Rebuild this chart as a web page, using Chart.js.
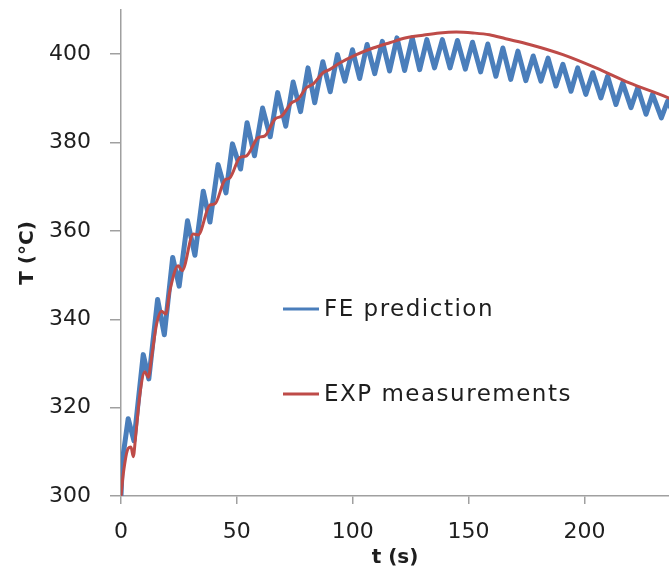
<!DOCTYPE html>
<html>
<head>
<meta charset="utf-8">
<title>T (°C) vs t (s)</title>
<script src="https://cdn.jsdelivr.net/npm/chart.js@4.4.1/dist/chart.umd.min.js"></script>
<style>
  html, body { margin: 0; padding: 0; background: #fff; }
  #wrap { width: 669px; height: 570px; }
</style>
</head>
<body>
<div id="wrap"><canvas id="tempChart" width="669" height="570"></canvas></div>
<script>
// FE prediction: peaks and troughs of the oscillating curve
var feTime = [0, 0.6, 3.1, 5.6, 9.6, 12.0, 15.8, 18.7, 22.3, 25.1, 28.7, 31.9, 35.5, 38.4, 41.9, 45.3,
    48.1, 51.6, 54.4, 57.6, 61.1, 64.4, 67.6, 71.1, 74.3, 77.5, 80.7, 83.6, 87.1, 90.3, 93.4, 96.6,
    99.9, 103.0, 106.2, 109.5, 112.8, 115.9, 119.1, 122.4, 125.7, 128.9, 132.0, 135.3, 138.7, 142.0,
    145.2, 148.6, 151.7, 155.2, 158.3, 161.8, 164.8, 168.2, 171.3, 174.7, 177.9, 181.2, 184.3, 187.7,
    190.7, 194.2, 197.1, 200.6, 203.6, 207.1, 210.0, 213.6, 216.5, 220.1, 223.0, 226.6, 229.4, 233.2,
    235.9, 238.5];
var feTemp = [300, 308, 317.5, 312.5, 332, 326.5, 344.5, 336.5, 354, 347.5, 362.3, 354.5, 369, 362, 375, 368.6,
    379.7, 374, 384.5, 377, 387.8, 381.3, 391.3, 383.7, 393.7, 387, 396.9, 389, 398.3, 391.5, 399.9, 393.9,
    401, 394.5, 402.2, 395.6, 402.9, 396.2, 403.7, 396.3, 403.7, 396.5, 403.3, 396.9, 403.3, 396.9,
    403.1, 396.6, 402.7, 396, 402.3, 395, 401.4, 394.3, 400.7, 394, 399.6, 393.9, 399.1, 392.8,
    397.7, 391.6, 396.9, 390.9, 395.8, 390.1, 395, 388.6, 393.5, 387.9, 392.4, 386.4, 390.9, 385.6,
    389.4, 386.5];

// EXP measurements
var expTime = [0, 1.0, 3.1, 4.3, 5.3, 6.3, 8.2, 10.3, 11.8, 13.2, 15.4, 17.5, 19.3, 21.1, 24.7, 26.4,
    31.2, 33.3, 38.4, 40.5, 44.8, 47.0, 51.3, 54.2, 59.2, 62.1, 66.4, 69.3, 73.6, 76.4, 80.0, 83.0,
    87.2, 90.0, 94.4, 101.6, 108.8, 116.0, 123.1, 130.3, 137.5, 144.7, 151.9, 159.0, 166.0, 176.3,
    190.7, 205.0, 219.4, 236.2, 238.5];
var expTemp = [300, 305.1, 310.8, 311.1, 308.9, 313.4, 323.2, 328.1, 326.9, 331.4, 339, 341.8, 341.2, 346.5, 352.1, 351,
    359.3, 359.1, 365.9, 366.1, 371.5, 372, 376.6, 377, 381.1, 381.5, 385.3, 386, 389, 389.8, 392.4, 393.3,
    395.8, 396.5, 398, 399.9, 401.4, 402.6, 403.7, 404.3, 404.8, 405, 404.8, 404.4, 403.5, 402.2,
    399.9, 396.9, 393.5, 390.1, 389.5];

var seriesNames = ['FE prediction', 'EXP measurements'];
var xRange = [0, 236.5];
var yRange = [300, 410];
var xStep = 50;
var yStep = 20;

function toPoints(xs, ys) {
    return xs.map(function (x, i) { return { x: x, y: ys[i] }; });
}

var axisGray = '#a0a0a0';
var textColor = '#1e1e1e';

Chart.defaults.font.family = '"DejaVu Sans", Verdana, sans-serif';
Chart.defaults.color = textColor;

// legend drawn inside the plot, under the curves' right half
var innerLegend = {
    id: 'innerLegend',
    afterDatasetsDraw: function (chart) {
        var ctx = chart.ctx;
        var area = chart.chartArea;
        var x0 = area.left + 162;
        var rows = [area.top + 299, area.top + 384];
        ctx.save();
        ctx.font = '23px "DejaVu Sans", Verdana, sans-serif';
        ctx.letterSpacing = '1.5px';
        ctx.textBaseline = 'middle';
        ctx.textAlign = 'left';
        chart.data.datasets.forEach(function (ds, i) {
            var y = rows[i];
            ctx.strokeStyle = ds.borderColor;
            ctx.lineWidth = 3;
            ctx.beginPath();
            ctx.moveTo(x0, y);
            ctx.lineTo(x0 + 36, y);
            ctx.stroke();
            ctx.fillStyle = textColor;
            ctx.fillText(ds.label, x0 + 41, y + 1);
        });
        ctx.restore();
    }
};

var ctx = document.getElementById('tempChart').getContext('2d');
var tempChart = new Chart(ctx, {
    type: 'line',
    data: {
        datasets: [{
            label: seriesNames[0],
            data: toPoints(feTime, feTemp),
            borderColor: '#4a7ebb',
            borderWidth: 5,
            borderJoinStyle: 'round',
            borderCapStyle: 'round',
            pointRadius: 0,
            tension: 0,
            order: 2
        }, {
            label: seriesNames[1],
            data: toPoints(expTime, expTemp),
            borderColor: '#be4b48',
            borderWidth: 3,
            pointRadius: 0,
            cubicInterpolationMode: 'monotone',
            order: 1
        }]
    },
    options: {
        responsive: false,
        animation: false,
        events: [],
        layout: { padding: { left: 0, right: 0, top: 10, bottom: 0 } },
        plugins: {
            legend: { display: false },
            tooltip: { enabled: false }
        },
        scales: {
            x: {
                type: 'linear',
                min: xRange[0],
                max: xRange[1],
                border: { color: axisGray, width: 1.5 },
                grid: { drawOnChartArea: false, color: axisGray, tickLength: 8, lineWidth: 1.5 },
                ticks: { stepSize: xStep, includeBounds: false, padding: 15, maxRotation: 0, font: { size: 22 } },
                title: {
                    display: true,
                    text: 't (s)',
                    font: { size: 20, weight: 'bold' },
                    padding: { top: 0, bottom: 0 }
                },
                afterFit: function (scale) {
                    scale.height = 74;
                    scale.paddingLeft = 0;
                    scale.paddingRight = 0;
                }
            },
            y: {
                min: yRange[0],
                max: yRange[1],
                border: { color: axisGray, width: 1.5 },
                grid: { drawOnChartArea: false, color: axisGray, tickLength: 11, lineWidth: 1.5 },
                ticks: { stepSize: yStep, includeBounds: false, padding: 19, font: { size: 22 } },
                title: {
                    display: true,
                    text: 'T (°C)',
                    font: { size: 20, weight: 'bold' },
                    padding: { top: 16, bottom: 0 }
                },
                afterFit: function (scale) {
                    scale.width = 121;
                    scale.paddingTop = 0;
                    scale.paddingBottom = 0;
                }
            }
        }
    },
    plugins: [innerLegend]
});
</script>
</body>
</html>
